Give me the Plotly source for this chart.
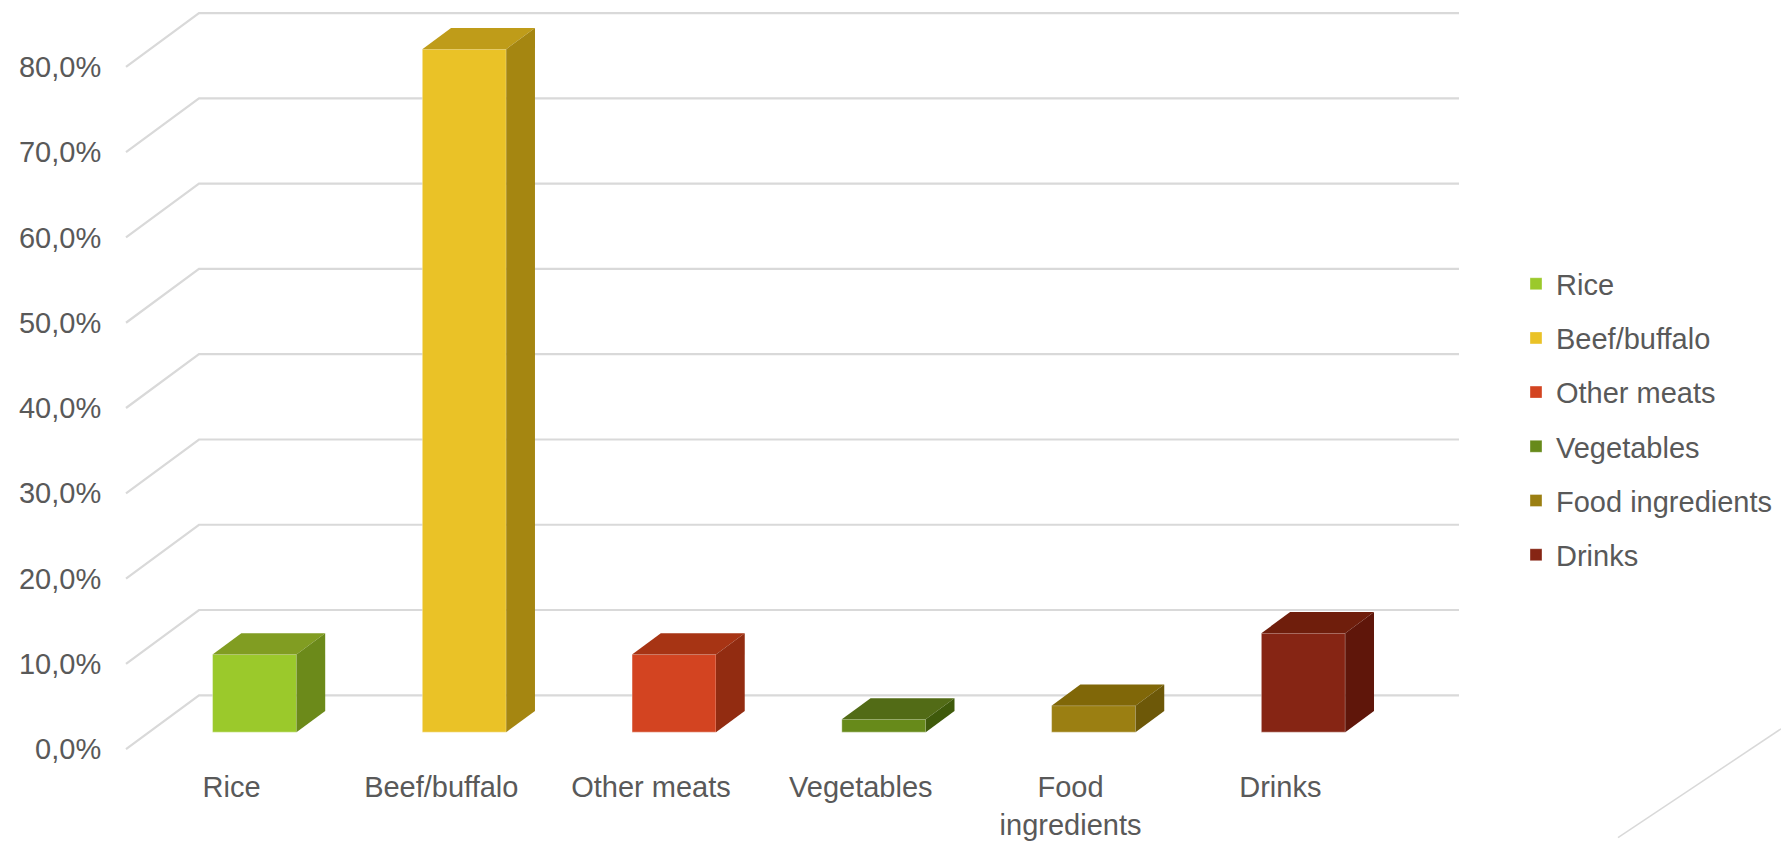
import plotly.graph_objects as go

# ---- data ----
categories = ["Rice", "Beef/buffalo", "Other meats", "Vegetables", "Food ingredients", "Drinks"]
tick_text_categories = ["Rice", "Beef/buffalo", "Other meats", "Vegetables", "Food<br>ingredients", "Drinks"]
values = [9.1, 80.1, 9.1, 1.5, 3.1, 11.6]          # percent
y_ticks = [0, 10, 20, 30, 40, 50, 60, 70, 80]

front_colors = ["#9BC92B", "#EAC227", "#D34421", "#678A1A", "#9B7F12", "#862514"]
top_colors = ["#819D22", "#BF9C19", "#A73414", "#526B16", "#806708", "#6F1E0C"]
side_colors = ["#6C8A1A", "#A58611", "#922C11", "#3F5A0B", "#6D5808", "#5F160A"]

# ---- geometry (pseudo-3D oblique projection, in axis units) ----
W, H = 1781, 841
ML, MB = 112, 71
PX_PER_X = 209.76          # px per category step
PX_PER_Y = 8.56            # px per percent
X0_PX = 254.5              # pixel of category 0 centre
BASE_PX = 735.0            # pixel of bar baseline (value 0)
BAR_W = 0.4
DEPTH_DX_PX, DEPTH_DY_PX = 73.0, 54.0     # full floor depth vector (px)
F_FRONT, F_BACK = 0.315, 0.709            # bar front/back as fraction of depth

DX = DEPTH_DX_PX / PX_PER_X
DY = DEPTH_DY_PX / PX_PER_Y
bar_ddx = (F_BACK - F_FRONT) * DX
bar_ddy = (F_BACK - F_FRONT) * DY
front_dx, front_dy = -F_FRONT * DX, -F_FRONT * DY
back_dx, back_dy = (1 - F_FRONT) * DX, (1 - F_FRONT) * DY

def px_to_x(p):
    return (p - X0_PX) / PX_PER_X

def py_to_y(p):
    return (BASE_PX - p) / PX_PER_Y

x_range = [px_to_x(ML), px_to_x(W)]
y_range = [py_to_y(H - MB), py_to_y(0)]
wall_left_front = px_to_x(126)
wall_left_back = wall_left_front + DX
wall_right = px_to_x(1459)

FONT = "Liberation Sans, Arial, sans-serif"
FS = 29
TXT = "#595959"
GRID = "#D9D9D9"

fig = go.Figure()

shapes = []
for t in y_ticks:
    yf = t + front_dy
    yb = t + back_dy
    shapes.append(dict(
        type="path", xref="x", yref="y", layer="below",
        path=f"M {wall_left_front},{yf} L {wall_left_back},{yb} L {wall_right},{yb}",
        line=dict(color=GRID, width=2.2),
    ))

for i, (cat, v) in enumerate(zip(categories, values)):
    fig.add_trace(go.Bar(
        x=[i], y=[v], width=BAR_W, name=cat, legendgroup=cat,
        marker=dict(color=front_colors[i], line=dict(color="rgba(255,255,255,0.35)", width=1)),
        hoverinfo="name+y",
    ))
    x0, x1 = i - BAR_W / 2, i + BAR_W / 2
    # top face
    fig.add_trace(go.Scatter(
        x=[x0, x1, x1 + bar_ddx, x0 + bar_ddx, x0],
        y=[v, v, v + bar_ddy, v + bar_ddy, v],
        fill="toself", fillcolor=top_colors[i], mode="lines",
        line=dict(width=0, color=top_colors[i]), showlegend=False,
        legendgroup=cat, hoverinfo="skip",
    ))
    # side face
    fig.add_trace(go.Scatter(
        x=[x1, x1 + bar_ddx, x1 + bar_ddx, x1, x1],
        y=[0, bar_ddy, v + bar_ddy, v, 0],
        fill="toself", fillcolor=side_colors[i], mode="lines",
        line=dict(width=0, color=side_colors[i]), showlegend=False,
        legendgroup=cat, hoverinfo="skip",
    ))

# decorative slide line bottom-right
pw = W - ML
ph = H - MB
shapes.append(dict(
    type="line", xref="paper", yref="paper",
    x0=(1781 - ML) / pw, y0=(ph - 731.7) / ph,
    x1=(1618 - ML) / pw, y1=(ph - 841) / ph,
    line=dict(color="#D9D9D9", width=1.5),
))

y_ticktext = [f"{t:.1f}".replace(".", ",") + "%" for t in y_ticks]

fig.update_layout(
    width=W, height=H,
    margin=dict(l=ML, r=0, t=0, b=MB, pad=0),
    paper_bgcolor="white", plot_bgcolor="white",
    barmode="overlay",
    shapes=shapes,
    font=dict(family=FONT, size=FS, color=TXT),
    showlegend=True,
    legend=dict(
        x=(1516 - ML) / pw, xanchor="left",
        y=(ph - 421) / ph, yanchor="middle",
        font=dict(family=FONT, size=FS, color=TXT),
        tracegroupgap=13.5,
        bgcolor="rgba(0,0,0,0)",
    ),
    xaxis=dict(
        range=x_range, showgrid=False, zeroline=False, showline=False,
        tickmode="array",
        tickvals=[i + front_dx for i in range(len(categories))],
        ticktext=tick_text_categories,
        ticks="", tickfont=dict(family=FONT, size=FS, color=TXT),
        fixedrange=True,
    ),
    yaxis=dict(
        range=y_range, showgrid=False, zeroline=False, showline=False,
        tickmode="array",
        tickvals=[t + front_dy for t in y_ticks],
        ticktext=y_ticktext,
        ticks="outside", ticklen=4, tickcolor="rgba(0,0,0,0)",
        tickfont=dict(family=FONT, size=FS, color=TXT),
        fixedrange=True,
    ),
)

fig.write_html("out.html")
